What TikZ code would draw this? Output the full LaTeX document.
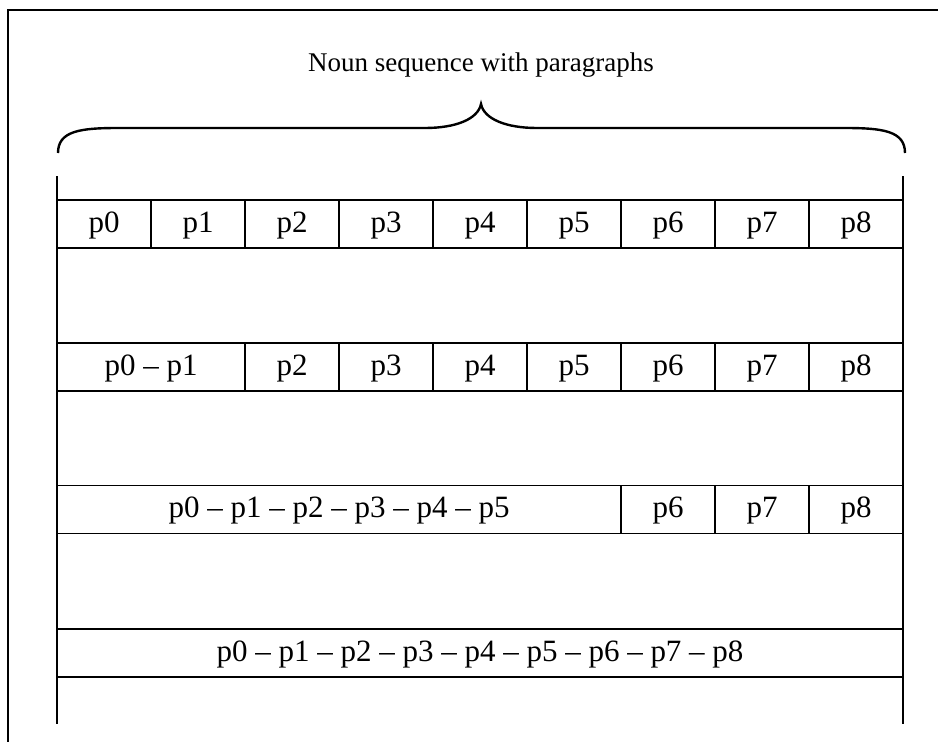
\documentclass[tikz,border=0pt]{standalone}
\usepackage{fontspec}
\setmainfont{Liberation Serif}
\begin{document}
\begin{tikzpicture}[x=1pt,y=-1pt,
  cell/.style={draw, line width=1.8pt, minimum height=48pt, inner sep=0pt,
    text height=16pt, text depth=0pt, font=\fontsize{31}{36}\selectfont},
  rail/.style={line width=1.8pt},
  frame/.style={line width=2.6pt},
  brace/.style={line width=2.4pt},
  title/.style={font=\fontsize{27}{32}\selectfont, inner sep=0pt, anchor=base}]
\useasboundingbox (0,0) rectangle (938,742);

% outer frame (left and top edges)
\coordinate (fbl) at (8,742);
\coordinate (ftl) at (8,10);
\coordinate (ftr) at (938,10);
\draw[frame] (fbl) -- (ftl) -- (ftr);

% title and brace
\node[title] (title) at (481,71) {Noun sequence with paragraphs};
\coordinate (bl) at (58,153);
\coordinate (br) at (905,153);
\coordinate (tip) at (481,104);
\draw[brace] (bl) .. controls (58,131) and (80,128) .. (118,128) -- (425,128)
  .. controls (456,128) and (478,119) .. (tip)
  .. controls (484,119) and (506,128) .. (537,128) -- (845,128)
  .. controls (883,128) and (905,131) .. (br);

% side rails
\coordinate (lt) at (57,176);
\coordinate (lb) at (57,724);
\coordinate (rt) at (903,176);
\coordinate (rb) at (903,724);
\draw[rail] (lt) -- (lb);
\draw[rail] (rt) -- (rb);

% row 1: single paragraphs
\foreach \i in {0,...,8}
  \node[cell, minimum width=94pt] (ra\i) at ({104+94*\i},224) {p\i};

% row 2
\node[cell, minimum width=188pt] (rb01) at (151,367) {p0 -- p1};
\foreach \i in {2,...,8}
  \node[cell, minimum width=94pt] (rb\i) at ({104+94*\i},367) {p\i};

% row 3
\node[cell, minimum width=564pt] (rc05) at (339,509.5) {p0 -- p1 -- p2 -- p3 -- p4 -- p5};
\foreach \i in {6,...,8}
  \node[cell, minimum width=94pt] (rc\i) at ({104+94*\i},509.5) {p\i};

% row 4
\node[cell, minimum width=846pt] (rd08) at (480,653)
  {p0 -- p1 -- p2 -- p3 -- p4 -- p5 -- p6 -- p7 -- p8};

\end{tikzpicture}
\end{document}
